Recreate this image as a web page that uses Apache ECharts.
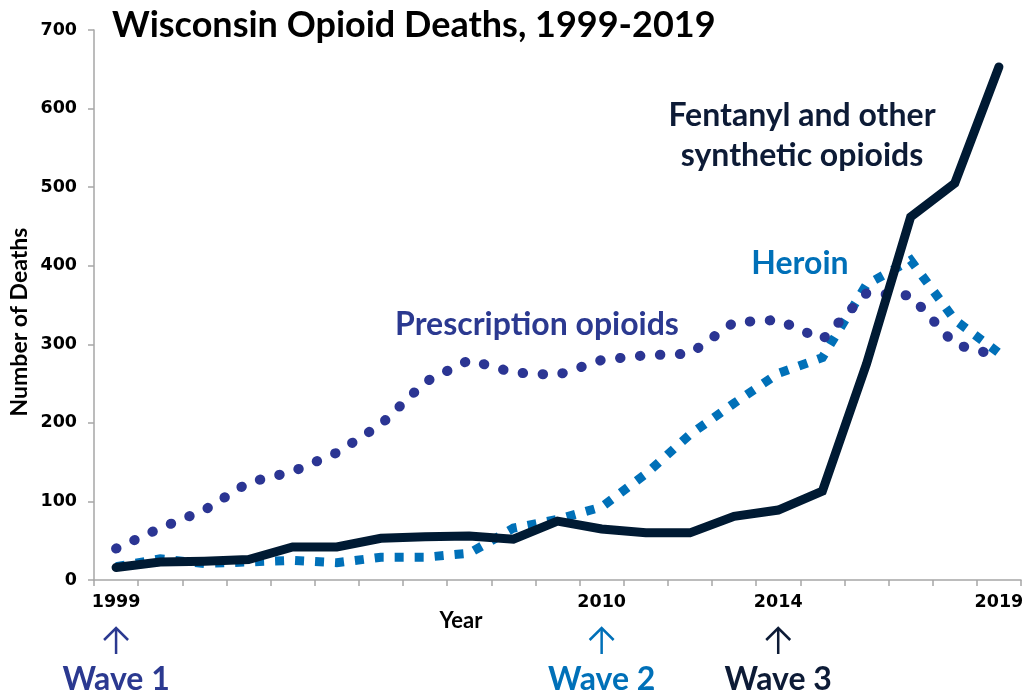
<!DOCTYPE html>
<html><head><meta charset="utf-8">
<script src="https://cdn.jsdelivr.net/npm/echarts@6/dist/echarts.min.js"></script>
<style>html,body{margin:0;padding:0;background:#fff}#c{width:1023px;height:696px}</style>
</head><body><div id="c"></div>
<script>
const years = ['1999','2000','2001','2002','2003','2004','2005','2006','2007','2008','2009','2010','2011','2012','2013','2014','2015','2016','2017','2018','2019'];
const xTickLabels = ['1999','2010','2014','2019'];
const rxDeaths = [40, 66, 89, 124, 138, 162, 198, 252, 280, 264, 261, 280, 286, 288, 328, 331, 306, 365, 362, 300, 285];
const heroinDeaths = [17, 27, 21, 23, 25, 22, 29, 29, 34, 66, 77, 93, 135, 185, 225, 263, 283, 376, 407, 331, 289];
const fentanylDeaths = [16, 23, 24, 26, 42, 42, 53, 55, 56, 52, 75, 65, 60, 60, 81, 89, 113, 275, 462, 505, 653];
const yMin = 0, yMax = 700, yStep = 100;
const waves = [
  {year:'1999', text:'Wave 1', color:'#2B3990'},
  {year:'2010', text:'Wave 2', color:'#0070B8'},
  {year:'2014', text:'Wave 3', color:'#0D1B36'}
];

const C_RX = '#2B3593', C_HER = '#0070B8', C_FEN = '#001A33';
const LABEL_FONT = 'Lato';
const axisGray = '#A6A6A6';

const chart = echarts.init(document.getElementById('c'), null, {renderer:'canvas'});
const option = {
  animation:false,
  grid:{left:94,right:2,top:30,bottom:116, containLabel:false, outerBoundsMode:'none'},
  xAxis:{
    type:'category', data:years, boundaryGap:true,
    axisLine:{lineStyle:{color:axisGray,width:1.5}},
    axisTick:{show:true, interval:0, length:6, lineStyle:{color:axisGray,width:1.5}},
    axisLabel:{interval:0, formatter:v => xTickLabels.includes(v) ? v : '',
      fontFamily:'DejaVu Sans', fontWeight:'bold', fontSize:17.5, color:'#000', margin:13},
    splitLine:{show:false}
  },
  yAxis:{
    type:'value', min:yMin, max:yMax, interval:yStep,
    axisLine:{show:true, lineStyle:{color:axisGray,width:1.5}},
    axisTick:{show:true, length:6, lineStyle:{color:axisGray,width:1.5}},
    axisLabel:{fontFamily:'DejaVu Sans', fontWeight:'bold', fontSize:17.5, color:'#000', margin:17},
    splitLine:{show:false}
  },
  series:[
    {name:'Heroin', type:'line', data:heroinDeaths, showSymbol:false, symbol:'none', z:2,
      lineStyle:{color:C_HER, width:9, type:[9,11], cap:'butt', join:'miter'}},
    {name:'Prescription opioids', type:'line', data:rxDeaths, showSymbol:false, symbol:'none', z:3,
      lineStyle:{color:C_RX, width:10, type:[0.5,19.5], cap:'round', join:'round'}},
    {name:'Fentanyl and other synthetic opioids', type:'line', data:fentanylDeaths, showSymbol:false, symbol:'none', z:4,
      lineStyle:{color:C_FEN, width:9, cap:'round', join:'miter'}}
  ]
};
chart.setOption(option);

const graphics = [
  {type:'text', x:112, y:25, style:{text:'Wisconsin Opioid Deaths, 1999-2019', font:'bold 36px Lato', fill:'#000', align:'left', verticalAlign:'middle'}},
  {type:'text', x:20, y:322, rotation:Math.PI/2, style:{text:'Number of Deaths', font:'bold 23px '+LABEL_FONT, fill:'#000', align:'center', verticalAlign:'middle'}},
  {type:'text', x:802, y:116, style:{text:'Fentanyl and other', font:'bold 32px '+LABEL_FONT, fill:'#0D1B36', align:'center', verticalAlign:'middle'}},
  {type:'text', x:802, y:156, style:{text:'synthetic opioids', font:'bold 32px '+LABEL_FONT, fill:'#0D1B36', align:'center', verticalAlign:'middle'}},
  {type:'text', x:800, y:264, style:{text:'Heroin', font:'bold 32px '+LABEL_FONT, fill:C_HER, align:'center', verticalAlign:'middle'}},
  {type:'text', x:537, y:325, style:{text:'Prescription opioids', font:'bold 32px '+LABEL_FONT, fill:'#2B3990', align:'center', verticalAlign:'middle'}},
  {type:'text', x:461, y:621, style:{text:'Year', font:'bold 22px '+LABEL_FONT, fill:'#000', align:'center', verticalAlign:'middle'}}
];
waves.forEach(w => {
  const x = chart.convertToPixel({xAxisIndex:0}, w.year);
  graphics.push({type:'line', shape:{x1:x, y1:628, x2:x, y2:654}, style:{stroke:w.color, lineWidth:2.5}});
  graphics.push({type:'polyline', shape:{points:[[x-12,640],[x,628],[x+12,640]]}, style:{stroke:w.color, lineWidth:2.5, fill:null}});
  graphics.push({type:'text', x:x, y:680, style:{text:w.text, font:'bold 32px '+LABEL_FONT, fill:w.color, align:'center', verticalAlign:'middle'}});
});
chart.setOption({graphic:graphics});
</script>
</body></html>
